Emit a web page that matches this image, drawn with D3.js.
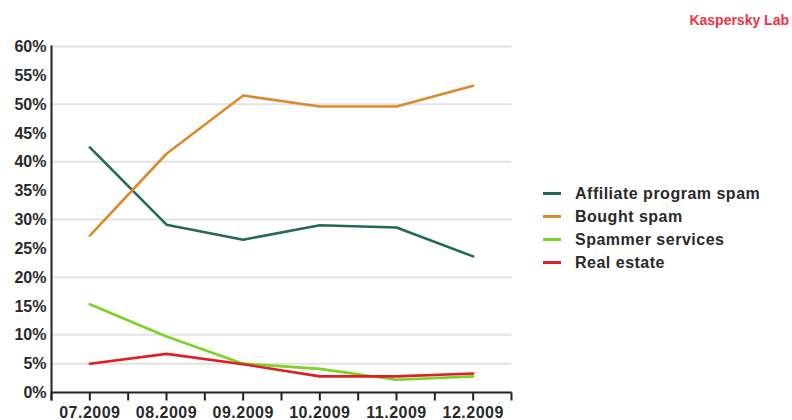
<!DOCTYPE html>
<html>
<head>
<meta charset="utf-8">
<script src="https://cdn.jsdelivr.net/npm/d3@7/dist/d3.min.js"></script>
<style>
  html, body { margin: 0; padding: 0; background: #fff; }
  svg { display: block; font-family: "Liberation Sans", Arial, sans-serif; }
</style>
</head>
<body>
<svg id="chart" width="792" height="420"></svg>
<script>
// Spam categories by month, share of total (%)
const months = ["07.2009", "08.2009", "09.2009", "10.2009", "11.2009", "12.2009"];
const affiliate = [42.5, 29.1, 26.5, 29.0, 28.6, 23.6];
const bought = [27.2, 41.4, 51.5, 49.6, 49.6, 53.2];
const spammerServices = [15.3, 9.7, 5.0, 4.1, 2.2, 2.8];
const realEstate = [5.0, 6.7, 4.9, 2.8, 2.8, 3.3];
const seriesNames = ["Affiliate program spam", "Bought spam", "Spammer services", "Real estate"];
const yTicks = [0, 5, 10, 15, 20, 25, 30, 35, 40, 45, 50, 55, 60];
const gridValues = [5, 10, 20, 30, 40, 50, 60];

const colors = ["#23695a", "#dc8a2a", "#7ad326", "#dd1f26"];
const seriesValues = [affiliate, bought, spammerServices, realEstate];

const svg = d3.select("#chart");
const plotLeft = 51.5, plotRight = 511.5, plotTop = 46.5, plotBottom = 392.5;

const x = d3.scaleBand().domain(months).range([plotLeft, plotRight]).padding(0);
const xc = m => x(m) + x.bandwidth() / 2;
const y = d3.scaleLinear().domain([0, 60]).range([plotBottom, plotTop]);

// Horizontal grid lines
svg.append("g").selectAll("line").data(gridValues).join("line")
  .attr("x1", plotLeft).attr("x2", plotRight)
  .attr("y1", d => y(d)).attr("y2", d => y(d))
  .attr("stroke", "#e2e2e2").attr("stroke-width", 2);

// Y axis: labels only, plus the vertical rule
const yAxis = svg.append("g").attr("transform", `translate(${plotLeft},0)`)
  .call(d3.axisLeft(y).tickValues(yTicks).tickSize(0).tickPadding(5).tickFormat(d => d + "%"));
yAxis.select(".domain").remove();
yAxis.selectAll("text")
  .attr("fill", "#2a2a2a").attr("font-size", "16px").attr("font-weight", "bold")
  .attr("font-family", "Liberation Sans, Arial, sans-serif");
svg.append("line")
  .attr("x1", plotLeft).attr("x2", plotLeft).attr("y1", plotTop - 1).attr("y2", plotBottom + 8)
  .attr("stroke", "#222").attr("stroke-width", 2);

// X axis: ticks at band edges and centres, labels at centres
const tickXs = months.map(m => x(m)).concat([plotRight]).concat(months.map(xc));
svg.append("line")
  .attr("x1", plotLeft).attr("x2", plotRight).attr("y1", plotBottom).attr("y2", plotBottom)
  .attr("stroke", "#222").attr("stroke-width", 2);
svg.append("g").selectAll("line").data(tickXs).join("line")
  .attr("x1", d => d).attr("x2", d => d)
  .attr("y1", plotBottom).attr("y2", plotBottom + 8)
  .attr("stroke", "#222").attr("stroke-width", 2);
svg.append("g").selectAll("text").data(months).join("text")
  .attr("x", d => xc(d)).attr("y", 418)
  .attr("text-anchor", "middle")
  .attr("fill", "#2a2a2a").attr("font-size", "16px").attr("font-weight", "bold")
  .attr("letter-spacing", "0.5px")
  .text(d => d);

// Data lines
const line = d3.line().x((d, i) => xc(months[i])).y(d => y(d));
svg.append("g").selectAll("path").data(seriesValues).join("path")
  .attr("d", d => line(d))
  .attr("fill", "none")
  .attr("stroke", (d, i) => colors[i])
  .attr("stroke-width", 2.6)
  .attr("stroke-linejoin", "round")
  .attr("stroke-linecap", "round");

// Legend
const legend = svg.append("g").selectAll("g").data(seriesNames).join("g")
  .attr("transform", (d, i) => `translate(543,${193.5 + i * 23})`);
legend.append("line")
  .attr("x1", 0).attr("x2", 18).attr("y1", 0).attr("y2", 0)
  .attr("stroke", (d, i) => colors[i]).attr("stroke-width", 3);
legend.append("text")
  .attr("x", 32).attr("y", 0).attr("dy", "0.36em")
  .attr("fill", "#2a2a2a").attr("font-size", "16px").attr("font-weight", "bold")
  .attr("letter-spacing", "0.5px")
  .text(d => d);

// Brand label
svg.append("text")
  .attr("x", 789).attr("y", 25).attr("text-anchor", "end")
  .attr("fill", "#ee3344").attr("font-size", "14px").attr("font-weight", "bold")
  .text("Kaspersky Lab");
</script>
</body>
</html>
